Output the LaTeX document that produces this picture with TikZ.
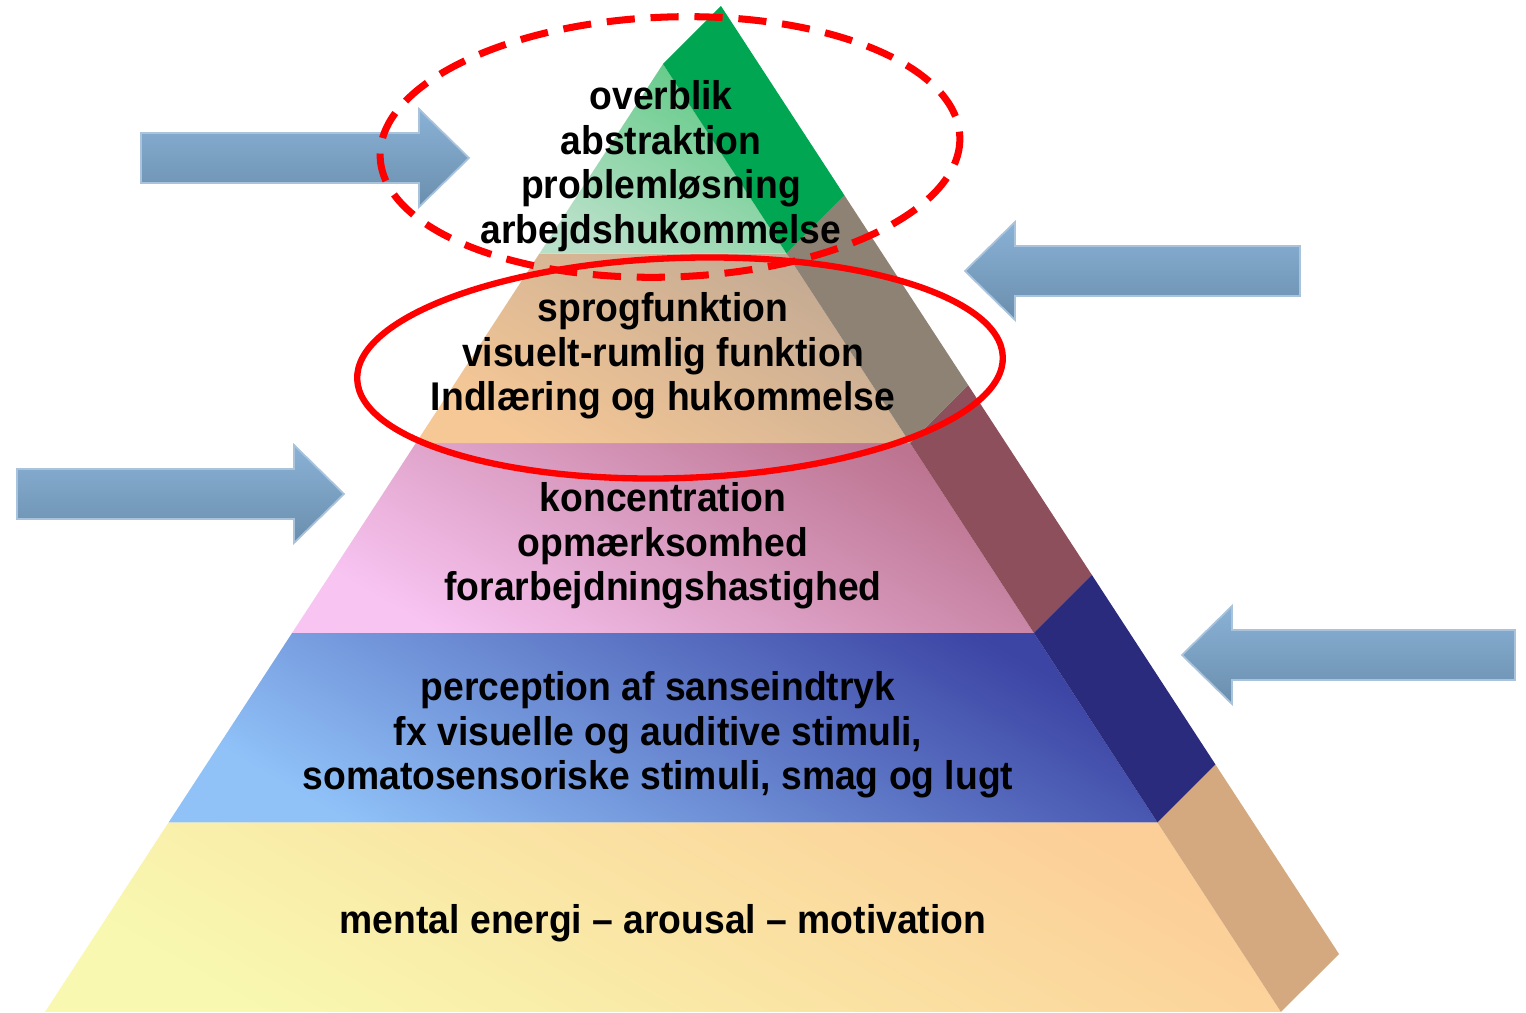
\documentclass[tikz,border=0pt]{standalone}
\usepackage{fontspec}
\setmainfont{Liberation Sans}[FakeStretch=0.93]
\usetikzlibrary{calc}

\definecolor{grnLo}{HTML}{B8E0C8}
\definecolor{grnHi}{HTML}{5EC984}
\definecolor{pchLo}{HTML}{F6C896}
\definecolor{pchHi}{HTML}{C2A993}
\definecolor{pnkLo}{HTML}{F8C4F2}
\definecolor{pnkHi}{HTML}{BC7490}
\definecolor{bluLo}{HTML}{90C2F8}
\definecolor{bluHi}{HTML}{3C44A4}
\definecolor{yelLo}{HTML}{F8F8B0}
\definecolor{yelHi}{HTML}{FCCF98}
\definecolor{sideGreen}{HTML}{00A651}
\definecolor{sideGray}{HTML}{8E8274}
\definecolor{sideWine}{HTML}{8D4F5B}
\definecolor{sideNavy}{HTML}{2B2B7D}
\definecolor{sideTan}{HTML}{D4A97F}
\definecolor{arrowTop}{HTML}{8AB2D6}
\definecolor{arrowBot}{HTML}{6A8EAD}
\definecolor{arrowLine}{HTML}{A9C3DC}

\begin{document}
\begin{tikzpicture}[x=0.01cm, y=-0.01cm,
    lbl/.style = {font=\fontsize{11.4}{12.7}\selectfont\bfseries, align=center},
    face/.style 2 args = {bottom color=#1, top color=#2, shading angle=-30},
    blockarrow/.style = {top color=arrowTop, bottom color=arrowBot, draw=arrowLine, line width=0.5pt},
    ring/.style = {draw=red, line width=1.8pt}]
    \useasboundingbox (0,0) rectangle (1526,1013);

    \coordinate (top) at (663,64);
    \coordinate (bl) at (45,1012);
    \coordinate (br) at (1281,1012);

    % pyramid layers, bottom to top
    \foreach \i/\lite/\dark/\sd in {0/yelLo/yelHi/sideTan, 1/bluLo/bluHi/sideNavy,
        2/pnkLo/pnkHi/sideWine, 3/pchLo/pchHi/sideGray, 4/grnLo/grnHi/sideGreen} {
        \pgfmathsetmacro{\lowf}{(5-\i)/5}
        \pgfmathsetmacro{\upf}{(4-\i)/5}
        \shade[face={\lite}{\dark}] ($(top)!\lowf!(bl)$) -- ($(top)!\lowf!(br)$)
            -- ($(top)!\upf!(br)$) -- ($(top)!\upf!(bl)$) -- cycle;
        \fill[\sd] ($(top)!\lowf!(br)$) -- ($(top)!\lowf!(br)+(58,-58)$)
            -- ($(top)!\upf!(br)+(58,-58)$) -- ($(top)!\upf!(br)$) -- cycle;
    }

    % block arrows: tail x / tip x / centre y
    \foreach \tx/\hx/\yc in {141/469/158, 17/344/494, 1300/965/271, 1515/1182/655} {
        \pgfmathsetmacro{\hb}{\hx-50*sign(\hx-\tx)}
        \shade[blockarrow] (\tx,\yc-25) -- (\hb,\yc-25) -- (\hb,\yc-49) -- (\hx,\yc)
            -- (\hb,\yc+49) -- (\hb,\yc+25) -- (\tx,\yc+25) -- cycle;
    }

    % highlight rings
    \draw[ring, line width=2pt, dash pattern=on 8pt off 4.5pt, rotate around={2:(670,147)}]
        (670,147) ellipse [x radius=290, y radius=130];
    \draw[ring, rotate around={2:(680,368)}] (680,368) ellipse [x radius=323, y radius=110];

    \node[lbl] (lvl5) at (661,166) {overblik\\abstraktion\\problemløsning\\arbejdshukommelse};
    \node[lbl] (lvl4) at (663,356) {sprogfunktion\\visuelt-rumlig funktion\\Indlæring og hukommelse};
    \node[lbl] (lvl3) at (663,546) {koncentration\\opmærksomhed\\forarbejdningshastighed};
    \node[lbl] (lvl2) at (658,735) {perception af sanseindtryk\\fx visuelle og auditive stimuli,\\somatosensoriske stimuli, smag og lugt};
    \node[lbl] (lvl1) at (663,923) {mental energi -- arousal -- motivation};
\end{tikzpicture}
\end{document}
